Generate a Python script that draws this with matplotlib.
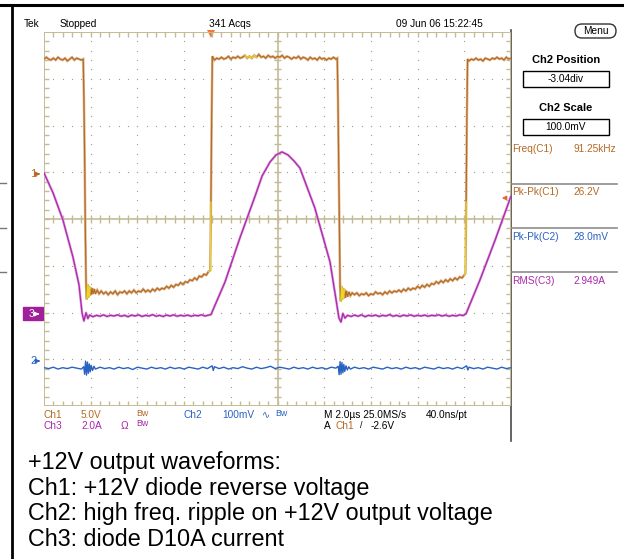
import numpy as np
import matplotlib.pyplot as plt
from matplotlib.collections import LineCollection
from matplotlib.patches import Rectangle, FancyBboxPatch

plt.rcParams['font.family'] = ['Liberation Sans', 'DejaVu Sans']

# ---- traces, time in us ----
# Ch1: +12V diode reverse voltage (V)
ch1_t = [0.0, 0.1, 0.2, 0.3, 0.4, 0.5, 0.6, 0.7, 0.8, 0.9, 1.0, 1.1, 1.2, 1.3, 1.4, 1.5, 1.6, 1.68,
         1.71, 1.74, 1.77, 1.80, 1.83,
         1.86, 1.89, 1.92, 1.95, 1.98, 2.02, 2.06, 2.10, 2.15, 2.20, 2.28, 2.36,
         2.45, 2.55, 2.65, 2.75, 2.85, 2.95, 3.05, 3.15, 3.25, 3.35, 3.45, 3.55, 3.65, 3.75, 3.85, 3.95,
         4.05, 4.15, 4.25, 4.35, 4.45, 4.55, 4.65, 4.75, 4.85, 4.95, 5.05, 5.15, 5.25, 5.35, 5.45, 5.55,
         5.65, 5.75, 5.85, 5.95, 6.05, 6.15, 6.25, 6.35, 6.45, 6.55, 6.65, 6.75, 6.85, 6.95, 7.05, 7.12,
         7.15, 7.18, 7.21,
         7.3, 7.4, 7.5, 7.6, 7.7, 7.8, 7.9, 8.0, 8.1, 8.2, 8.3, 8.4, 8.5, 8.6, 8.7, 8.8, 8.9, 9.0,
         9.1, 9.2, 9.3, 9.4, 9.5, 9.6, 9.7, 9.8, 9.9, 10.0, 10.1, 10.2, 10.3, 10.4, 10.5, 10.6, 10.7,
         10.8, 10.9, 11.0, 11.1, 11.2, 11.3, 11.4, 11.5, 11.6, 11.7, 11.8, 11.9, 12.0, 12.1, 12.2,
         12.3, 12.4, 12.5, 12.56,
         12.59, 12.62, 12.65, 12.68, 12.71,
         12.74, 12.77, 12.80, 12.83, 12.87, 12.91, 12.95, 13.00, 13.06, 13.12, 13.20,
         13.3, 13.4, 13.5, 13.6, 13.7, 13.8, 13.9, 14.0, 14.1, 14.2, 14.3, 14.4, 14.5, 14.6, 14.7,
         14.8, 14.9, 15.0, 15.1, 15.2, 15.3, 15.4, 15.5, 15.6, 15.7, 15.8, 15.9, 16.0, 16.1, 16.2,
         16.3, 16.4, 16.5, 16.6, 16.7, 16.8, 16.9, 17.0, 17.1, 17.2, 17.3, 17.4, 17.5, 17.6, 17.7,
         17.8, 17.9, 18.0, 18.05,
         18.08, 18.11, 18.14,
         18.2, 18.3, 18.4, 18.5, 18.6, 18.7, 18.8, 18.9, 19.0, 19.1, 19.2, 19.3, 19.4, 19.5, 19.6,
         19.7, 19.8, 19.9, 20.0]
ch1_v = [12.3, 12.5, 12.3, 12.2, 12.4, 12.2, 12.5, 12.3, 12.2, 12.4, 12.1, 12.3, 12.5, 12.2, 12.4, 12.3, 12.2, 12.3,
         8.0, 2.0, -6.0, -11.5, -13.4,
         -11.8, -13.2, -12.0, -13.0, -12.1, -12.9, -12.2, -12.8, -12.3, -12.8, -12.4, -12.8,
         -12.5, -12.8, -12.6, -12.9, -12.6, -12.8, -12.5, -12.9, -12.6, -12.7, -12.5, -12.8, -12.5, -12.7, -12.4, -12.7,
         -12.5, -12.6, -12.3, -12.6, -12.4, -12.6, -12.3, -12.5, -12.2, -12.4, -12.2, -12.3, -12.0, -12.2, -11.9, -12.1,
         -11.8, -11.9, -11.6, -11.8, -11.5, -11.6, -11.3, -11.4, -11.1, -11.3, -10.9, -11.0, -10.7, -10.8, -10.4, -10.3,
         -3.0, 6.0, 12.6,
         12.2, 12.4, 12.3, 12.5, 12.3, 12.4, 12.6, 12.3, 12.5, 12.4, 12.6, 12.4, 12.5, 12.7, 12.4, 12.6, 12.4, 12.7,
         12.5, 12.8, 12.5, 12.6, 12.4, 12.7, 12.5, 12.6, 12.4, 12.6, 12.5, 12.7, 12.4, 12.6, 12.5, 12.3, 12.5,
         12.4, 12.6, 12.3, 12.5, 12.4, 12.2, 12.5, 12.3, 12.4, 12.2, 12.5, 12.3, 12.4, 12.2, 12.4,
         12.3, 12.5, 12.3, 12.4,
         8.0, 1.0, -7.0, -12.0, -13.6,
         -12.0, -13.4, -12.2, -13.3, -12.3, -13.2, -12.5, -13.1, -12.6, -13.0, -12.7,
         -12.9, -12.7, -13.0, -12.8, -12.9, -12.7, -13.0, -12.8, -12.9, -12.6, -12.8, -12.7, -12.9, -12.6, -12.8,
         -12.5, -12.7, -12.5, -12.6, -12.4, -12.6, -12.3, -12.5, -12.2, -12.4, -12.2, -12.3, -12.0, -12.2, -11.9,
         -12.1, -11.8, -12.0, -11.7, -11.8, -11.5, -11.7, -11.4, -11.6, -11.3, -11.5, -11.2, -11.4, -11.1, -11.3,
         -11.0, -11.1, -10.8, -10.6,
         -3.0, 6.0, 12.3,
         12.1, 12.3, 12.2, 12.4, 12.2, 12.3, 12.1, 12.4, 12.3, 12.2, 12.4, 12.3, 12.5, 12.3, 12.4,
         12.2, 12.5, 12.3, 12.4]

# Ch2: high freq. ripple on +12V output (mV)
ch2_t = [0.0, 0.2, 0.4, 0.6, 0.8, 1.0, 1.2, 1.4, 1.6, 1.7,
         1.74, 1.78, 1.82, 1.86, 1.90, 1.94, 1.98, 2.02, 2.08, 2.14, 2.2,
         2.4, 2.6, 2.8, 3.0, 3.2, 3.4, 3.6, 3.8, 4.0, 4.2, 4.4, 4.6, 4.8, 5.0, 5.2, 5.4, 5.6, 5.8,
         6.0, 6.2, 6.4, 6.6, 6.8, 7.0, 7.2, 7.25, 7.3, 7.5, 7.7, 7.9, 8.1, 8.3, 8.5, 8.7, 8.9, 9.1,
         9.3, 9.5, 9.7, 9.9, 10.1, 10.3, 10.5, 10.7, 10.9, 11.1, 11.3, 11.5, 11.7, 11.9, 12.1, 12.3,
         12.5, 12.6,
         12.64, 12.68, 12.72, 12.76, 12.80, 12.84, 12.88, 12.93, 12.99, 13.05, 13.12,
         13.3, 13.5, 13.7, 13.9, 14.1, 14.3, 14.5, 14.7, 14.9, 15.1, 15.3, 15.5, 15.7, 15.9, 16.1,
         16.3, 16.5, 16.7, 16.9, 17.1, 17.3, 17.5, 17.7, 17.9, 18.1, 18.15, 18.2, 18.4, 18.6, 18.8,
         19.0, 19.2, 19.4, 19.6, 19.8, 20.0]
ch2_mv = [-16, -18, -15, -19, -16, -18, -15, -17, -19, -14,
          -30, -2, -32, -4, -28, -8, -25, -11, -22, -13, -19,
          -15, -18, -16, -19, -15, -18, -16, -20, -15, -17, -19, -15, -18, -16, -19, -15, -18, -16,
          -19, -15, -17, -19, -15, -18, -12, -22, -14, -18, -15, -19, -16, -18, -14, -17, -19, -15,
          -18, -16, -13, -18, -15, -17, -19, -15, -18, -16, -19, -15, -18, -16, -19, -15,
          -17, -13,
          -31, -3, -30, -5, -27, -9, -24, -12, -21, -14, -19,
          -15, -18, -16, -19, -15, -17, -19, -15, -18, -16, -19, -15, -18, -16, -19,
          -15, -17, -19, -15, -18, -16, -19, -15, -18, -12, -21, -15, -18, -16, -19,
          -15, -17, -19, -15, -18, -16]

# Ch3: diode D10A current (A)
ch3_t = [0.0, 0.39, 0.81, 1.24, 1.50, 1.63, 1.71, 1.80, 1.88,
         1.95, 2.1, 2.25, 2.4, 2.55, 2.7, 2.85, 3.0, 3.15, 3.3, 3.45, 3.6, 3.75, 3.9, 4.05, 4.2,
         4.35, 4.5, 4.65, 4.8, 4.95, 5.1, 5.25, 5.4, 5.55, 5.7, 5.85, 6.0, 6.15, 6.3, 6.45, 6.6,
         6.75, 6.9, 7.05, 7.15,
         7.75, 8.39, 9.04, 9.34, 9.68, 9.94, 10.19, 10.45, 10.71, 10.96, 11.6, 12.25, 12.51,
         12.63, 12.72, 12.80, 12.89,
         13.0, 13.15, 13.3, 13.45, 13.6, 13.75, 13.9, 14.05, 14.2, 14.35, 14.5, 14.65, 14.8, 14.95,
         15.1, 15.25, 15.4, 15.55, 15.7, 15.85, 16.0, 16.15, 16.3, 16.45, 16.6, 16.75, 16.9, 17.05,
         17.2, 17.35, 17.5, 17.65, 17.8, 17.95, 18.07,
         18.67, 19.32, 20.0]
ch3_a = [6.03, 5.17, 4.02, 2.43, 1.24, 0.04, -0.30, 0.05, -0.20,
         -0.05, -0.12, -0.06, -0.10, -0.04, -0.11, -0.06, -0.09, -0.04, -0.10, -0.06, -0.12, -0.05, -0.09, -0.04, -0.11,
         -0.06, -0.09, -0.03, -0.10, -0.06, -0.11, -0.05, -0.09, -0.04, -0.10, -0.06, -0.09, -0.05, -0.10, -0.06, -0.08,
         -0.04, -0.09, -0.05, -0.03,
         1.36, 3.25, 5.04, 5.9, 6.5, 6.8, 6.93, 6.8, 6.54, 6.24, 4.53, 2.22, 0.59,
         -0.17, -0.35, 0.02, -0.18,
         -0.06, -0.11, -0.05, -0.10, -0.04, -0.12, -0.06, -0.09, -0.05, -0.11, -0.06, -0.09, -0.03, -0.10,
         -0.06, -0.11, -0.05, -0.09, -0.04, -0.10, -0.06, -0.09, -0.05, -0.10, -0.06, -0.08, -0.04, -0.09,
         -0.05, -0.10, -0.06, -0.09, -0.04, -0.07, 0.0,
         1.45, 3.16, 5.04]

# scope settings: scale per div and ground level (div from bottom)
t_per_div = 2.0
ch1_scale, ch1_pos = 5.0, 4.96
ch2_scale, ch2_pos = 100.0, 0.98
ch3_scale, ch3_pos = 2.0, 1.97

c1 = '#b36a25'
c2 = '#2a62c2'
c3 = '#aa2aaa'
grat = '#c4bb96'
dotc = '#a89f7c'

W, H = 624, 559
fig = plt.figure(figsize=(W / 100, H / 100), dpi=100)
bg = fig.add_axes([0, 0, 1, 1])
bg.set_xlim(0, W)
bg.set_ylim(H, 0)
bg.axis('off')

sc = fig.add_axes([44 / W, 1 - 406 / H, 467 / W, 374 / H])
sc.set_xlim(0, 10)
sc.set_ylim(0, 8)
sc.axis('off')

# graticule
for gx in range(1, 10):
    if gx != 5:
        sc.plot([gx] * 39, np.arange(1, 40) * 0.2, ls='none', marker='s', ms=0.8, color=dotc, mew=0)
for gy in range(1, 8):
    if gy != 4:
        sc.plot(np.arange(1, 50) * 0.2, [gy] * 49, ls='none', marker='s', ms=0.8, color=dotc, mew=0)
segs = []
for i in range(1, 50):
    x = i * 0.2
    segs += [[(x, 8), (x, 7.9)], [(x, 0), (x, 0.1)], [(x, 3.92), (x, 4.08)]]
for i in range(1, 40):
    y = i * 0.2
    segs += [[(0, y), (0.1, y)], [(10, y), (9.9, y)], [(4.92, y), (5.08, y)]]
sc.add_collection(LineCollection(segs, colors=grat, linewidths=1.0))
sc.plot([0, 10], [4, 4], color=grat, lw=1.2)
sc.plot([5, 5], [0, 8], color=grat, lw=1.2)
sc.plot([0, 10, 10, 0, 0], [0, 0, 8, 8, 0], color=grat, lw=1.4)


def window(t, spans):
    t = np.asarray(t)
    m = np.zeros(len(t), bool)
    for a, b in spans:
        m |= (t >= a) & (t <= b)
    return m


# Ch1 trace
x1 = np.array(ch1_t) / t_per_div
y1 = ch1_pos + np.array(ch1_v) / ch1_scale
sc.plot(x1, y1, color='#dcae82', lw=1.8, solid_joinstyle='miter')
sc.plot(x1, y1, color=c1, lw=0.8)
for span in [(1.70, 1.72), (1.83, 1.98), (7.05, 7.15), (8.6, 9.1), (12.58, 12.60), (12.71, 12.87), (18.0, 18.08)]:
    m = window(ch1_t, [span])
    sc.plot(x1[m], y1[m], color='#e8d62a', lw=0.9)

# Ch3 trace
x3 = np.array(ch3_t) / t_per_div
y3 = ch3_pos + np.array(ch3_a) / ch3_scale
sc.plot(x3, y3, color='#dc9edc', lw=1.8)
sc.plot(x3, y3, color=c3, lw=0.9)

# Ch2 trace
x2 = np.array(ch2_t) / t_per_div
y2 = ch2_pos + np.array(ch2_mv) / ch2_scale
sc.plot(x2, y2, color=c2, lw=1.0)


def txt(x, y, s, **kw):
    kw.setdefault('fontsize', 7.3)
    kw.setdefault('va', 'center')
    bg.text(x, y, s, **kw)


# page frame
bg.plot([0, W], [5, 5], color='black', lw=2.2)
bg.plot([12, 12], [5, H], color='black', lw=2.0)
for yy in [183, 228, 272]:
    bg.plot([0, 6], [yy, yy], color='#777777', lw=1.0)
bg.plot([511, 511], [30, 441], color='#4a4a4a', lw=1.2)

# header
txt(24, 24, 'Tek')
txt(60, 24, 'Stopped')
txt(209, 24, '341 Acqs')
txt(396, 24, '09 Jun 06 15:22:45')
bg.plot([211], [34], marker='v', ms=6, color='#f07a3a', mew=0)

# channel markers
txt(30, 174, '1', color=c1, fontsize=8)
bg.annotate('', xy=(43, 174), xytext=(35, 174),
            arrowprops=dict(arrowstyle='-|>', color=c1, lw=1, mutation_scale=6))
bg.add_patch(Rectangle((23, 307), 20, 13, color='#a0209c'))
txt(29, 314, '3', color='white')
bg.annotate('', xy=(42, 314), xytext=(35, 314),
            arrowprops=dict(arrowstyle='-|>', color='white', lw=1, mutation_scale=6))
txt(30, 361, '2', color=c2, fontsize=8)
bg.annotate('', xy=(43, 361), xytext=(35, 361),
            arrowprops=dict(arrowstyle='-|>', color=c2, lw=1, mutation_scale=6))
bg.annotate('', xy=(499, 198), xytext=(508, 198),
            arrowprops=dict(arrowstyle='-|>', color='#e06a2a', lw=1, mutation_scale=6))

# bottom readout
txt(44, 415, 'Ch1', color=c1)
txt(81, 415, '5.0V', color=c1)
txt(136, 413, 'Bw', color=c1, fontsize=6.3)
txt(184, 415, 'Ch2', color=c2)
txt(222, 415, '100mV', color=c2)
txt(262, 415, '\u223f', color=c2, fontsize=7)
txt(275, 413, 'Bw', color=c2, fontsize=6.3)
txt(324, 415, 'M 2.0\u00b5s 25.0MS/s')
txt(426, 415, '40.0ns/pt')
txt(44, 426, 'Ch3', color=c3)
txt(81, 426, '2.0A', color=c3)
txt(121, 426, '\u03a9', color=c3)
txt(136, 424, 'Bw', color=c3, fontsize=6.3)
txt(324, 426, 'A')
txt(335, 426, 'Ch1', color=c1)
txt(360, 426, '/', fontsize=6.5)
txt(371, 426, '-2.6V')

# side panel
bg.add_patch(FancyBboxPatch((575, 24), 41, 14, boxstyle='round,pad=0,rounding_size=7',
                            fc='white', ec='#333333', lw=1.0))
txt(595.5, 31.5, 'Menu', ha='center')
txt(566, 60, 'Ch2 Position', ha='center', fontsize=8, fontweight='bold')
bg.add_patch(Rectangle((523, 71), 86, 16, fc='white', ec='black', lw=1.0))
txt(566, 79, '-3.04div', ha='center')
txt(566, 108, 'Ch2 Scale', ha='center', fontsize=8, fontweight='bold')
bg.add_patch(Rectangle((523, 119), 86, 16, fc='white', ec='black', lw=1.0))
txt(566, 127, '100.0mV', ha='center')

meas_names = ['Freq(C1)', 'Pk-Pk(C1)', 'Pk-Pk(C2)', 'RMS(C3)']
meas_vals = ['91.25kHz', '26.2V', '28.0mV', '2.949A']
meas_cols = [c1, c1, c2, c3]
meas_y = [149, 192, 237, 281]
for name, val, col, yy in zip(meas_names, meas_vals, meas_cols, meas_y):
    txt(512, yy, name, color=col)
    txt(573, yy, val, color=col)
for yy in [184, 228, 272]:
    bg.plot([512, 617], [yy, yy], color='#8c8c8c', lw=1.2)

# caption
caption = ['+12V output waveforms:',
           'Ch1: +12V diode reverse voltage',
           'Ch2: high freq. ripple on +12V output voltage',
           'Ch3: diode D10A current']
for i, line in enumerate(caption):
    bg.text(28, 469 + i * 25.5, line, fontsize=16.8, va='baseline', color='black')

fig.savefig('out.png', dpi=100)
